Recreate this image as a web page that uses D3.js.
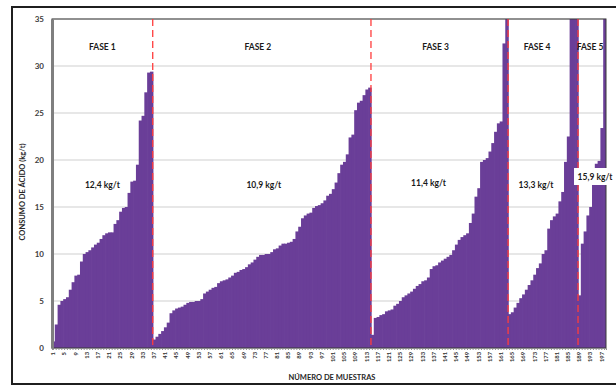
<!DOCTYPE html>
<html>
<head>
<meta charset="utf-8">
<script src="https://cdn.jsdelivr.net/npm/d3@7"></script>
<style>
  body { margin: 0; background: #fff; }
  text { font-family: Lato, "Open Sans", sans-serif; }
</style>
</head>
<body>
<div id="chart"></div>
<script>
// consumo de acido por muestra, ordenado dentro de cada fase
const fase1 = [0.7, 2.5, 4.6, 5.0, 5.2, 5.4, 6.2, 7.0, 7.7, 7.8, 9.2, 10.0, 10.2, 10.4, 10.7, 11.0, 11.2, 11.6,
  12.0, 12.2, 12.3, 12.3, 13.2, 13.6, 14.5, 14.9, 15.0, 16.5, 17.7, 17.8, 19.5, 24.2, 24.7, 27.2, 29.3, 29.4];
const fase2 = [0.9, 1.2, 1.5, 1.8, 2.2, 2.7, 3.7, 4.0, 4.2, 4.3, 4.4, 4.6, 4.8, 4.9, 4.9, 5.0, 5.0, 5.2, 5.8, 6.0,
  6.2, 6.4, 6.5, 6.9, 7.1, 7.2, 7.3, 7.5, 7.7, 8.0, 8.1, 8.3, 8.4, 8.6, 8.9, 9.1, 9.4, 9.7, 9.9, 9.9,
  10.0, 10.0, 10.2, 10.5, 10.6, 10.9, 11.1, 11.1, 11.2, 11.3, 11.6, 12.4, 12.9, 13.8, 14.1, 14.3, 14.4, 14.9,
  15.1, 15.2, 15.4, 15.7, 16.2, 16.4, 16.9, 17.6, 18.6, 19.5, 19.8, 20.6, 22.4, 22.7, 25.3, 26.1, 26.3, 26.9, 27.5, 27.7];
const fase3 = [1.4, 3.2, 3.3, 3.5, 3.6, 3.9, 4.0, 4.1, 4.5, 4.7, 5.0, 5.4, 5.6, 5.8, 6.0, 6.3, 6.6, 6.8, 7.1, 7.2,
  7.5, 8.4, 8.7, 8.8, 9.1, 9.3, 9.5, 9.7, 9.9, 10.4, 11.0, 11.5, 11.8, 12.0, 12.2, 13.3, 14.3, 16.1, 17.0, 19.8,
  20.0, 20.2, 20.9, 21.8, 23.0, 23.9, 24.1, 32.4, 38];
const fase4 = [3.6, 3.8, 4.3, 4.8, 5.3, 5.7, 6.2, 6.7, 7.2, 7.8, 8.5, 9.0, 10.0, 10.4, 12.7, 13.6, 14.0, 14.3,
  15.6, 16.6, 19.8, 22.5, 38, 38, 38];
const fase5 = [5.6, 11.1, 12.4, 14.1, 15.0, 17.9, 19.6, 19.9, 23.4, 38];

const faseNames = ["FASE 1", "FASE 2", "FASE 3", "FASE 4", "FASE 5"];
const faseMedias = ["12,4 kg/t", "10,9 kg/t", "11,4 kg/t", "13,3 kg/t", "15,9 kg/t"];
const yTicks = [0, 5, 10, 15, 20, 25, 30, 35];

const fases = [fase1, fase2, fase3, fase4, fase5];
let data = [];
let starts = [];
fases.forEach((f, i) => {
  starts.push(data.length + 1);
  f.forEach(v => data.push({ n: data.length + 1, v: v, fase: i }));
});

const W = 616, H = 386;
const margin = { top: 19, right: 10, bottom: 38, left: 52 };

const svg = d3.select("#chart").append("svg")
  .attr("width", W)
  .attr("height", H);

// marco exterior
svg.append("rect")
  .attr("x", 12).attr("y", 7)
  .attr("width", 610).attr("height", 377)
  .attr("fill", "none")
  .attr("stroke", "#1f1f1f")
  .attr("stroke-width", 2);

const x = d3.scaleBand()
  .domain(data.map(d => d.n))
  .range([margin.left, W - margin.right])
  .padding(0);

const y = d3.scaleLinear()
  .domain([0, 35])
  .range([H - margin.bottom, margin.top]);

// grid
svg.append("g")
  .selectAll("line")
  .data(yTicks.slice(1))
  .enter().append("line")
  .attr("x1", margin.left).attr("x2", W - margin.right)
  .attr("y1", d => y(d)).attr("y2", d => y(d))
  .attr("stroke", "#cfcfcf")
  .attr("stroke-width", 1);

svg.append("clipPath").attr("id", "clip")
  .append("rect")
  .attr("x", margin.left).attr("y", margin.top)
  .attr("width", W - margin.right - margin.left)
  .attr("height", H - margin.bottom - margin.top);

// barras (un poco solapadas para que no queden rendijas)
svg.append("g")
  .attr("clip-path", "url(#clip)")
  .selectAll("rect")
  .data(data)
  .enter().append("rect")
  .attr("x", d => x(d.n))
  .attr("width", x.bandwidth() + 0.7)
  .attr("y", d => y(d.v))
  .attr("height", d => y(0) - y(d.v))
  .attr("fill", "#6a3e98");

// borde del area de trazado
svg.append("rect")
  .attr("x", margin.left).attr("y", margin.top)
  .attr("width", W - margin.right - margin.left)
  .attr("height", H - margin.bottom - margin.top)
  .attr("fill", "none")
  .attr("stroke", "#3a3a3a")
  .attr("stroke-width", 1);

// eje x
const xAxis = d3.axisBottom(x)
  .tickSize(2)
  .tickFormat(d => (d - 1) % 4 === 0 ? d : "");
const gx = svg.append("g")
  .attr("transform", `translate(0,${y(0)})`)
  .call(xAxis);
gx.select(".domain").attr("stroke", "#8c8c8c");
gx.selectAll(".tick line").attr("stroke", "#8c8c8c");
gx.selectAll("text")
  .attr("transform", "rotate(-90)")
  .attr("text-anchor", "end")
  .attr("x", -4)
  .attr("y", 0)
  .attr("dy", "0.32em")
  .style("font-size", "5.8px")
  .style("font-weight", "bold")
  .style("font-family", "Lato, sans-serif")
  .attr("fill", "#333");

// eje y
const gy = svg.append("g")
  .attr("transform", `translate(${margin.left},0)`)
  .call(d3.axisLeft(y).tickValues(yTicks).tickSize(0).tickPadding(8));
gy.select(".domain").attr("stroke", "#7f7f7f").attr("stroke-width", 3);
gy.selectAll("text")
  .style("font-size", "8px")
  .style("font-weight", "bold")
  .style("font-family", "Lato, sans-serif")
  .attr("fill", "#404040");

// lineas de separacion entre fases
svg.append("g")
  .selectAll("line")
  .data(starts.slice(1))
  .enter().append("line")
  .attr("x1", d => x(d)).attr("x2", d => x(d))
  .attr("y1", margin.top).attr("y2", y(0))
  .attr("stroke", "#ff3c3c")
  .attr("stroke-width", 1.3)
  .attr("stroke-dasharray", "7,4");

// etiquetas de fase
const centers = fases.map((f, i) => {
  const a = x(starts[i]);
  const b = x(starts[i] + f.length - 1) + x.bandwidth();
  return (a + b) / 2;
});
const faseX = [centers[0], centers[1] - 4, centers[2] - 4, centers[3] - 6, centers[4] - 2];
const mediaX = [centers[0], centers[1] + 2, centers[2] - 11, centers[3] - 7, centers[4] + 3];
const mediaY = [185, 185, 183, 185, 177];

svg.append("g")
  .selectAll("text")
  .data(faseNames)
  .enter().append("text")
  .attr("x", (d, i) => faseX[i])
  .attr("y", 50)
  .attr("text-anchor", "middle")
  .style("font-size", "8.5px")
  .style("font-weight", "bold")
  .attr("fill", "#1a1a1a")
  .text(d => d);

const medias = svg.append("g")
  .selectAll("g")
  .data(faseMedias)
  .enter().append("g")
  .attr("transform", (d, i) => `translate(${mediaX[i]},${mediaY[i]})`);
medias.append("rect")
  .attr("x", -21).attr("y", -9)
  .attr("width", 42).attr("height", 17)
  .attr("fill", "#fff");
medias.append("text")
  .attr("text-anchor", "middle")
  .attr("dy", "0.32em")
  .style("font-size", "8.5px")
  .style("font-weight", "bold")
  .attr("fill", "#1a1a1a")
  .text(d => d);

// titulos de ejes
svg.append("text")
  .attr("x", 332)
  .attr("y", 380)
  .attr("text-anchor", "middle")
  .style("font-size", "7.5px")
  .style("font-weight", "bold")
  .attr("fill", "#262626")
  .text("NÚMERO DE MUESTRAS");

svg.append("text")
  .attr("transform", "translate(25,192) rotate(-90)")
  .attr("text-anchor", "middle")
  .style("font-size", "7.5px")
  .style("font-weight", "bold")
  .attr("fill", "#262626")
  .text("CONSUMO DE ÁCIDO  (kg/t)");
</script>
</body>
</html>
